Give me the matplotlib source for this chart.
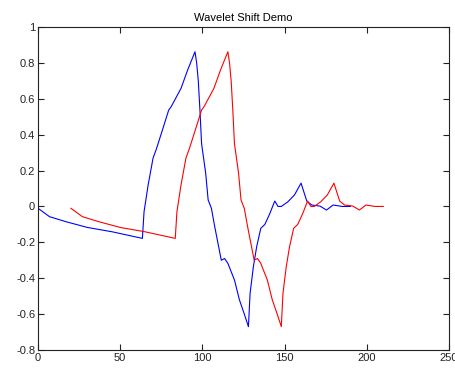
import matplotlib
matplotlib.use("Agg")
import matplotlib.pyplot as plt

blue_x = [0, 7, 17, 30, 45, 63.5, 64.5, 67, 70, 72, 76, 79.5, 81, 87, 91, 95.5,
          96.5, 97.5, 98.5, 99.5, 102, 103.5, 105.5, 107.5, 111.5, 113.5, 115.5,
          119.5, 122.5, 125.5, 128, 129, 131, 133, 135.5, 138, 141, 144, 146,
          148, 152, 156, 160, 163.5, 166.5, 171.5, 175.5, 179.5, 185, 190]
blue_y = [-0.01, -0.057, -0.085, -0.117, -0.141, -0.178, -0.03, 0.12, 0.27, 0.32,
          0.435, 0.537, 0.556, 0.658, 0.76, 0.862, 0.80, 0.70, 0.537, 0.35, 0.185,
          0.036, -0.011, -0.113, -0.30, -0.29, -0.317, -0.41, -0.52, -0.60, -0.67,
          -0.485, -0.336, -0.225, -0.122, -0.10, -0.04, 0.03, 0.0, 0.0, 0.026,
          0.064, 0.13, 0.03, 0.008, 0.002, -0.02, 0.008, 0.0, 0.0]

red_x = [20, 27, 37, 50, 65, 83.5, 84.5, 87, 90, 92, 96, 99.5, 101, 107, 111, 115.5,
         116.5, 117.5, 118.5, 119.5, 122, 123.5, 125.5, 127.5, 131.5, 133.5, 135.5,
         139.5, 142.5, 145.5, 148, 149, 151, 153, 155.5, 158, 161, 164, 166,
         168, 172, 176, 180, 183.5, 186.5, 191.5, 195.5, 199.5, 205, 210]
red_y = [-0.01, -0.057, -0.085, -0.117, -0.141, -0.178, -0.03, 0.12, 0.27, 0.32,
         0.435, 0.537, 0.556, 0.658, 0.76, 0.862, 0.80, 0.70, 0.537, 0.35, 0.185,
         0.036, -0.011, -0.113, -0.30, -0.29, -0.317, -0.41, -0.52, -0.60, -0.67,
         -0.485, -0.336, -0.225, -0.122, -0.10, -0.04, 0.03, 0.0, 0.0, 0.026,
         0.064, 0.13, 0.03, 0.008, 0.002, -0.02, 0.008, 0.0, 0.0]

x_ticks = [0, 50, 100, 150, 200, 250]
x_labels = ["0", "50", "100", "150", "200", "250"]
y_ticks = [-0.8, -0.6, -0.4, -0.2, 0, 0.2, 0.4, 0.6, 0.8, 1]
y_labels = ["-0.8", "-0.6", "-0.4", "-0.2", "0", "0.2", "0.4", "0.6", "0.8", "1"]
title = "Wavelet Shift Demo"

plt.rcParams["font.family"] = ["Liberation Sans", "DejaVu Sans"]
fig = plt.figure(figsize=(4.56, 3.71), dpi=100)
ax = fig.add_axes([38/456, 21/371, 411/456, 323/371])
ax.plot(blue_x, blue_y, color=(0, 0, 1), lw=0.8)
ax.plot(red_x, red_y, color=(1, 0, 0), lw=0.8)
ax.set_xlim(0, 250)
ax.set_ylim(-0.8, 1)
ax.set_xticks(x_ticks)
ax.set_xticklabels(x_labels)
ax.set_yticks(y_ticks)
ax.set_yticklabels(y_labels)
ax.tick_params(direction="in", length=4, width=0.8, top=True, right=True,
               labelsize=8, colors="#222222", pad=2)
for s in ax.spines.values():
    s.set_linewidth(0.8)
    s.set_color("#222222")
ax.set_title(title, fontsize=8, pad=4)
fig.savefig("out.png", dpi=100)
